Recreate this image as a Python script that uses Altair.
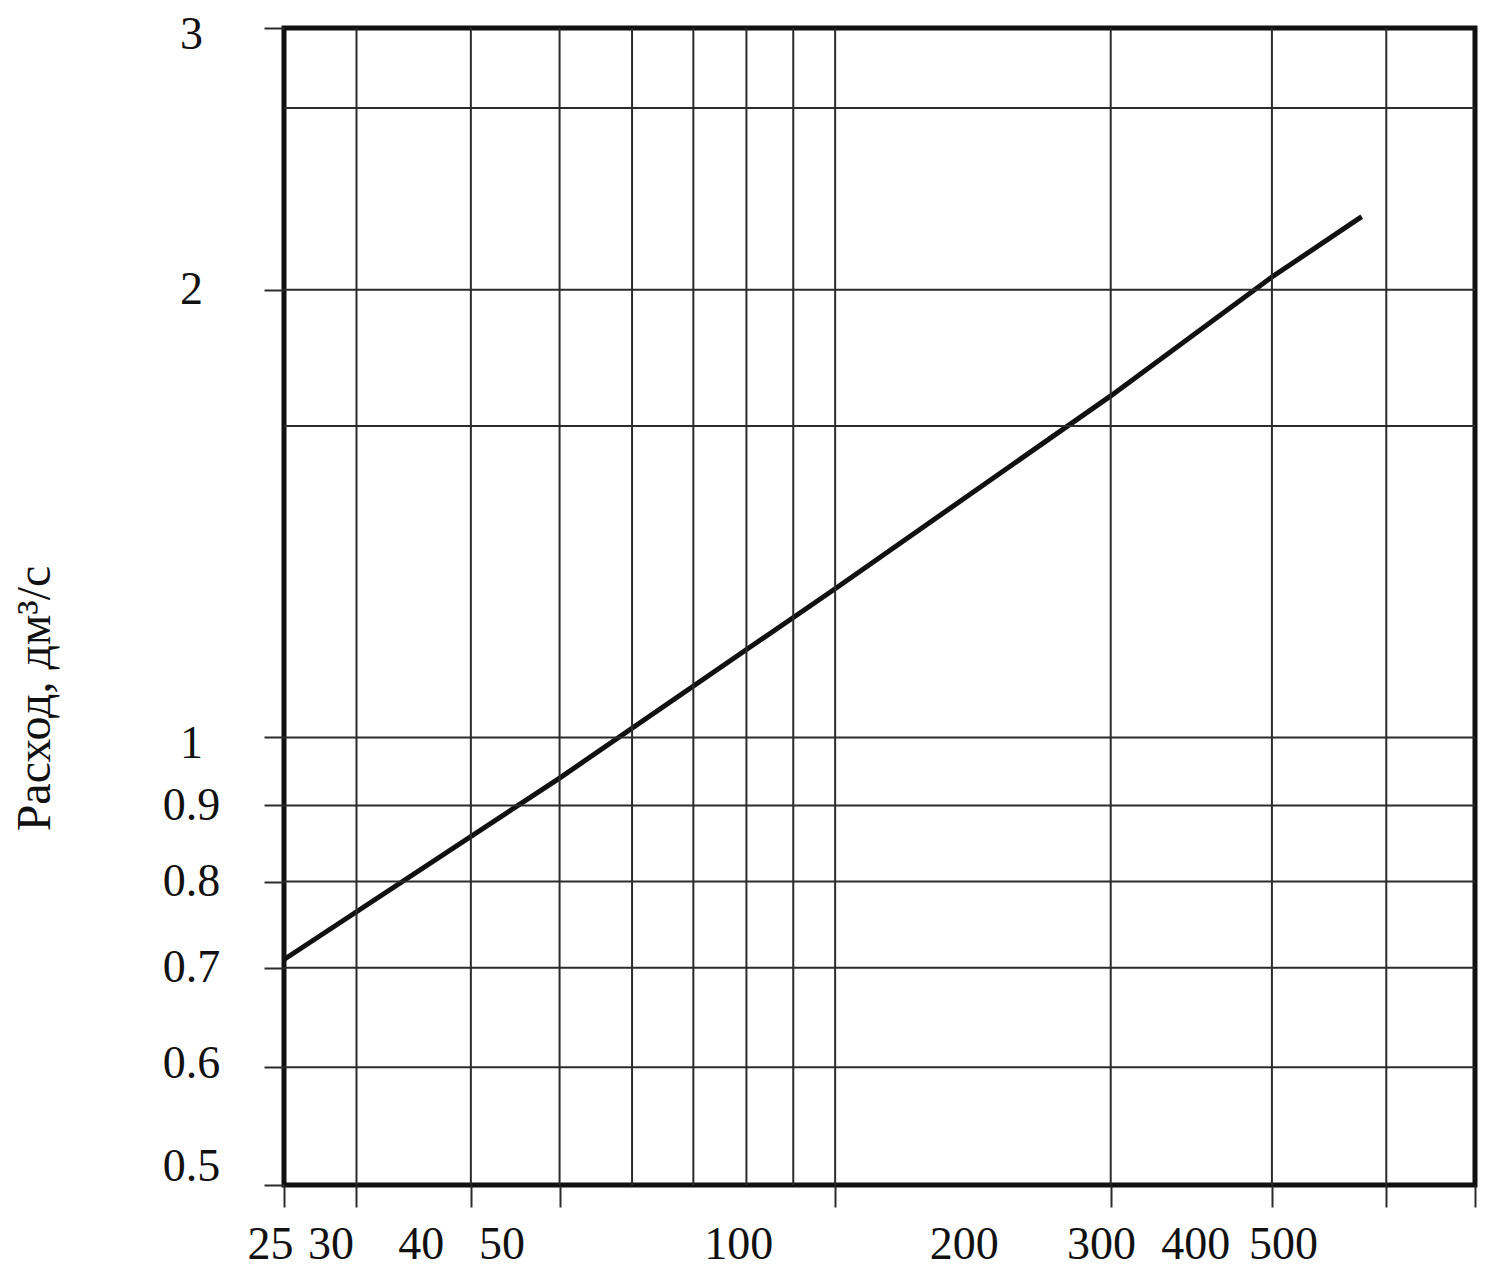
import altair as alt
import pandas as pd

# ---- data (log-log chart) ----
pressure = [25, 50, 100, 200, 300, 376]
flow = [0.709, 0.939, 1.259, 1.697, 2.04, 2.24]

x_tick_values = [25, 30, 40, 50, 100, 200, 300, 400, 500]
x_grid_values = [30, 40, 50, 60, 70, 80, 90, 100, 200, 300, 400]
y_tick_values = [0.5, 0.6, 0.7, 0.8, 0.9, 1, 2, 3]
y_grid_values = [0.6, 0.7, 0.8, 0.9, 1, 1.62, 2, 2.65]

y_title = "Расход, дм³/с"

FONT = "Liberation Serif"
INK = "#111111"
GRID = "#2b2b2b"

xs = alt.Scale(type="log", domain=[25, 500], nice=False)
ys = alt.Scale(type="log", domain=[0.5, 3], nice=False)

# label shifts (layout only) reproducing where the reference prints its labels
x_label_shift = {25: -14, 30: -26, 40: -50, 50: -58, 100: -97,
                 200: -147, 300: -171, 400: -191, 500: -192}
y_label_shift = {3: 6, 1: 6, 0.6: -4, 0.5: -19}

x_offset = {"condition": [{"test": f"datum.value == {k}", "value": v}
                          for k, v in x_label_shift.items()], "value": 0}
y_offset = {"condition": [{"test": f"datum.value == {k}", "value": v}
                          for k, v in y_label_shift.items()], "value": 0}

x_axis = alt.Axis(
    values=x_tick_values, format="~g", grid=False, domain=False,
    ticks=True, tickSize=22, tickWidth=2, tickColor=GRID,
    labelFont=FONT, labelFontSize=46, labelColor=INK,
    labelBaseline="top", labelPadding=15, labelAlign="center",
    labelOverlap=False, labelFlush=False, labelBound=False,
    labelOffset=x_offset, title=None,
)

y_axis = alt.Axis(
    values=y_tick_values, format="~g", grid=False, domain=False,
    ticks=True, tickSize=20, tickWidth=2, tickColor=GRID,
    labelFont=FONT, labelFontSize=46, labelColor=INK,
    labelAlign="center", labelBaseline="middle", labelPadding=73,
    labelOverlap=False, labelFlush=False, labelBound=False,
    labelOffset=y_offset,
    title=y_title, titleFont=FONT, titleFontSize=48, titleFontWeight="normal",
    titleColor=INK, titleAngle=270, titleAlign="center", titleBaseline="middle",
    titleX=-249, titleY=670,
)

df = pd.DataFrame({"p": pressure, "q": flow})

line = alt.Chart(df).mark_line(color=INK, strokeWidth=5).encode(
    x=alt.X("p:Q", scale=xs, axis=x_axis),
    y=alt.Y("q:Q", scale=ys, axis=y_axis),
)

vgrid = alt.Chart(pd.DataFrame({"p": x_grid_values})).mark_rule(
    color=GRID, strokeWidth=2
).encode(x=alt.X("p:Q", scale=xs))

hgrid = alt.Chart(pd.DataFrame({"q": y_grid_values})).mark_rule(
    color=GRID, strokeWidth=2
).encode(y=alt.Y("q:Q", scale=ys))

chart = (
    alt.layer(line, vgrid, hgrid)
    .properties(
        width=1191, height=1157,
        padding={"left": 276, "top": 20, "right": 6, "bottom": 83},
        autosize=alt.AutoSizeParams(type="none"),
        background="white",
    )
    .configure_view(stroke=INK, strokeWidth=5)
)

chart.save("out.html", embed_options={"renderer": "svg", "actions": False})
